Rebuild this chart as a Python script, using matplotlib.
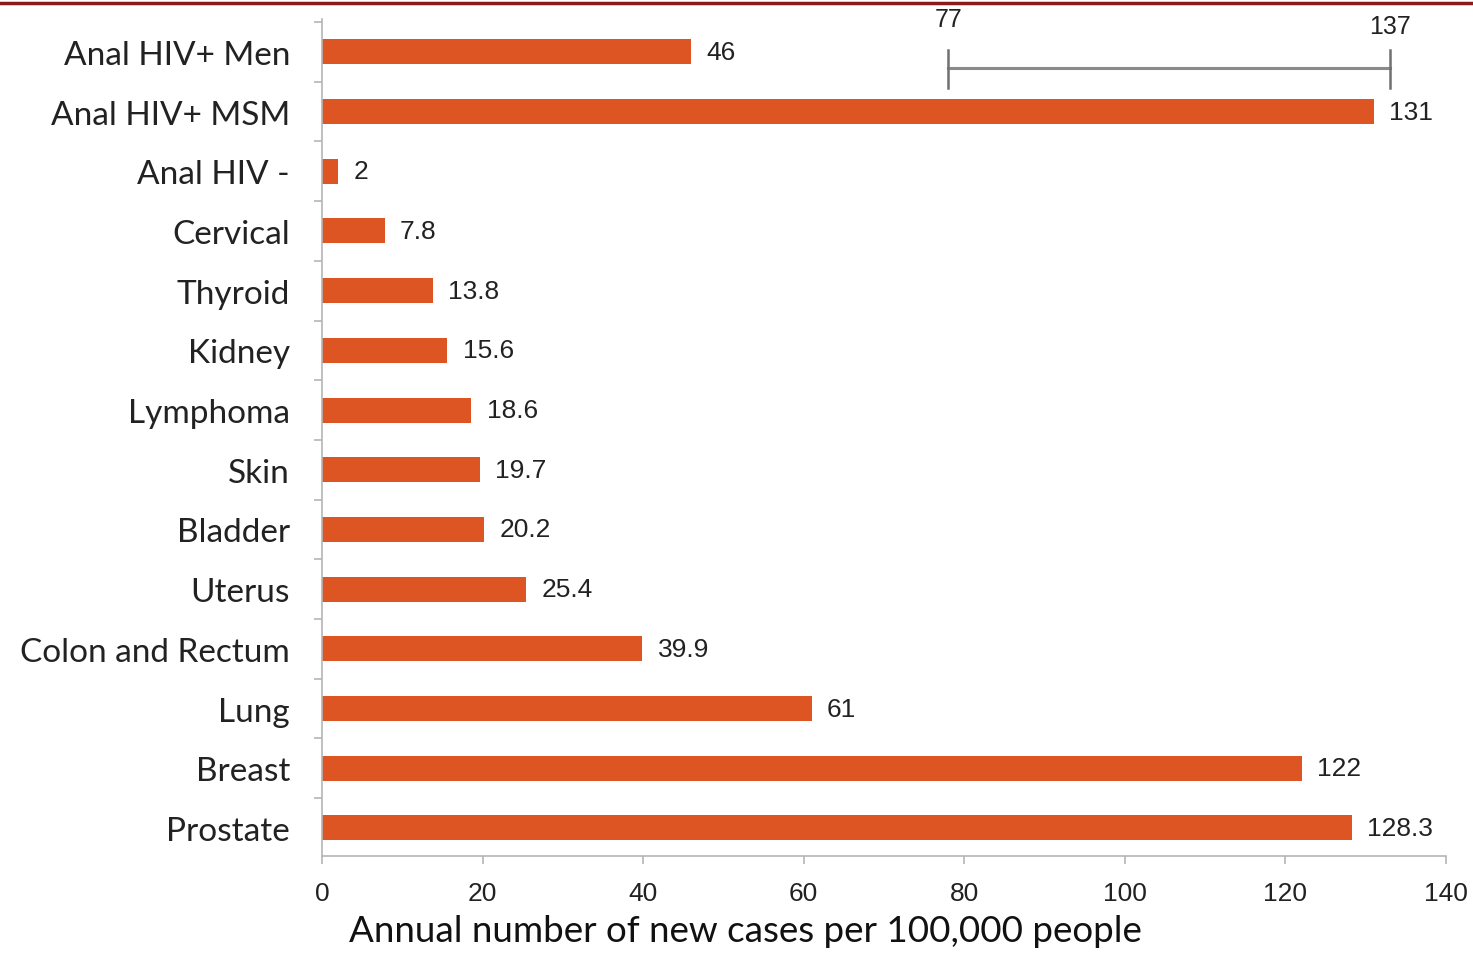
import matplotlib
matplotlib.use("Agg")
import matplotlib.pyplot as plt
from matplotlib.lines import Line2D
from matplotlib.ticker import MultipleLocator

BAR = "#DE5524"
GREY = "#9a9a9a"

categories = ["Anal HIV+ Men", "Anal HIV+ MSM", "Anal HIV -", "Cervical", "Thyroid",
              "Kidney", "Lymphoma", "Skin", "Bladder", "Uterus", "Colon and Rectum",
              "Lung", "Breast", "Prostate"]
values = [46, 131, 2, 7.8, 13.8, 15.6, 18.6, 19.7, 20.2, 25.4, 39.9, 61, 122, 128.3]
value_labels = ["46", "131", "2", "7.8", "13.8", "15.6", "18.6", "19.7", "20.2", "25.4",
                "39.9", "61", "122", "128.3"]

# range bracket drawn over the MSM row
range_lo, range_hi = 78, 133
range_labels = ["77", "137"]

fig = plt.figure(figsize=(14.73, 9.54), dpi=100)
ax = fig.add_axes([0.2186, 0.1017, 0.7631, 0.8773])

ys = list(range(len(categories)))
ax.barh(ys, values, height=0.42, color=BAR)
ax.set_ylim(len(categories) - 0.53, -0.55)
ax.set_xlim(0, 140)

for y, v, lab in zip(ys, values, value_labels):
    ax.annotate(lab, (v, y), xytext=(11, 0), textcoords="offset points",
                ha="left", va="center", fontsize=19, family="Liberation Sans", color="#222222")

# range bracket
yb = 0.27
ax.plot([range_lo, range_hi], [yb, yb], color="#8a8a8a", lw=2.2)
for x in (range_lo, range_hi):
    ax.plot([x, x], [yb - 0.3, yb + 0.33], color="#707070", lw=1.8)
ax.text(range_lo, yb - 0.62, range_labels[0], ha="center", va="bottom", fontsize=18,
        family="Liberation Sans", color="#222222")
ax.text(range_hi, yb - 0.5, range_labels[1], ha="center", va="bottom", fontsize=18,
        family="Liberation Sans", color="#222222")

for s in ("top", "right"):
    ax.spines[s].set_visible(False)
for s in ("left", "bottom"):
    ax.spines[s].set_color("#b5b5b5")
    ax.spines[s].set_linewidth(1.2)

ax.set_yticks(ys)
ax.set_yticklabels(categories, fontsize=24, family="Lato", color="#222222")
ax.tick_params(axis="y", which="major", length=0, pad=23)
ax.set_yticks([y + 0.5 for y in ys[:-1]] + [-0.5], minor=True)
ax.tick_params(axis="y", which="minor", length=6, color="#b5b5b5", width=1.2)

ax.xaxis.set_major_locator(MultipleLocator(20))
ax.tick_params(axis="x", length=6, color="#b5b5b5", width=1.2, pad=12,
               labelsize=19, labelcolor="#222222")
for t in ax.get_xticklabels():
    t.set_family("Liberation Sans")

fig.text(745 / 1473, 1 - 932 / 954, "Annual number of new cases per 100,000 people",
         ha="center", va="center", fontsize=26.5, family="Lato", color="#111111")

# thin dark red rule along the top edge
fig.add_artist(Line2D([0, 1], [0.9955, 0.9955], color="#8B1A1A", lw=2.5,
                      transform=fig.transFigure))

fig.savefig("out.png", dpi=100, facecolor="white")
